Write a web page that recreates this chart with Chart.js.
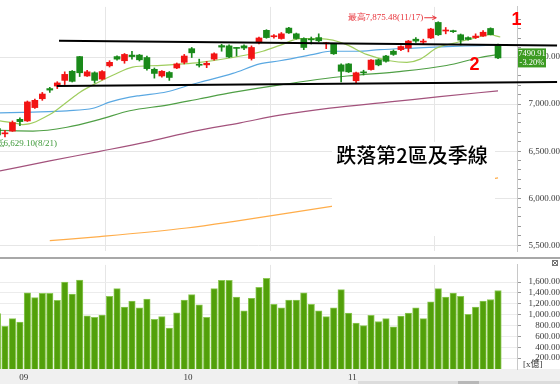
<!DOCTYPE html>
<html><head><meta charset="utf-8">
<script src="https://cdn.jsdelivr.net/npm/chart.js@4"></script>
<style>
html,body{margin:0;padding:0;background:#fff;overflow:hidden}
#wrap{position:relative;width:560px;height:384px}
#a{position:absolute;left:0;top:0}
#b{position:absolute;left:0;top:258px}
</style></head><body>
<div id="wrap">
<canvas id="a" width="560" height="258"></canvas>
<canvas id="b" width="560" height="126"></canvas>
</div>
<script>
// ---- data ----
const open  = [6740,6684,6713,6838,6821,6963,7057,7165,7192,7252,7349,7505,7299,7333,7266,7407,7505,7461,7521,7521,7495,7370,7299,7336,7384,7444,7589,7421,7417,7478,7622,7619,7600,7619,7485,7652,7784,7716,7697,7808,7747,7697,7691,7707,7642,7636,7417,7427,7248,7340,7367,7471,7511,7562,7579,7596,7690,7659,7703,7868,7777,7778,7737,7707,7707,7723,7804,7629];
const high  = [6765,6720,6821,6855,7033,7054,7124,7178,7238,7343,7357,7508,7360,7343,7357,7461,7513,7538,7562,7528,7511,7384,7357,7346,7437,7528,7602,7478,7454,7545,7636,7629,7602,7629,7619,7713,7791,7740,7761,7816,7755,7705,7713,7747,7657,7644,7427,7432,7341,7360,7473,7478,7518,7576,7619,7677,7707,7690,7806,7875.48,7814,7786,7745,7715,7747,7781,7811,7639];
const low   = [6650,6650,6710,6771,6815,6953,7040,7124,7165,7208,7235,7293,7293,7225,7256,7394,7468,7434,7478,7458,7360,7276,7286,7252,7377,7427,7495,7394,7387,7468,7562,7493,7511,7579,7468,7639,7700,7700,7690,7750,7690,7579,7639,7663,7589,7528,7235,7336,7218,7309,7362,7407,7447,7518,7569,7555,7656,7639,7697,7730,7747,7761,7629,7680,7697,7720,7735,7483];
const close = [6672,6692,6804,6814,7023,7040,7107,7149,7225,7316,7242,7333,7343,7252,7346,7444,7478,7528,7505,7471,7377,7326,7349,7283,7427,7511,7545,7413,7434,7535,7606,7501,7592,7596,7602,7703,7707,7724,7747,7757,7697,7602,7683,7673,7650,7535,7349,7343,7333,7332,7468,7417,7455,7528,7612,7670,7670,7667,7798,7737,7785,7770,7680,7687,7723,7764,7738.54,7490.91];
const volume = [1021,787,928,863,1403,1315,1391,1391,1262,1602,1379,1637,980,951,992,1338,1479,1139,1250,1127,1285,916,963,752,1033,1268,1368,1180,951,1479,1632,1632,1326,1069,1303,1502,1667,1192,1127,1268,1268,1403,1192,1069,963,1127,1461,1027,845,798,986,875,928,775,974,1027,1127,928,1238,1479,1326,1396,1338,1004,1139,1250,1280,1444];
const monthLabels = ['09','10','11'];
const monthStart  = [4, 26, 48];
const priceTickLabels  = [5500, 6000, 6500, 7000, 7500];
const volumeTickLabels = [200, 400, 600, 800, 1000, 1200, 1400, 1600];
// moving averages as [index, price] points
const maShort = [[0.33,6821],[3.0,6788],[3.4,6781],[7.0,6889],[9.3,7023],[11.0,7124],[13.3,7225],[15.5,7309],[18.1,7394],[21.4,7410],[24.8,7427],[27.1,7444],[31.5,7495],[35.5,7562],[37.8,7624],[40.5,7697],[43.2,7697],[44.9,7680],[46.8,7629],[49.4,7528],[52.5,7461],[54.8,7444],[56.6,7478],[58.8,7596],[61.0,7646],[63.7,7697],[65.9,7737],[67.3,7713]];
const maMonth = [[0.33,6907],[4.75,6915],[9.3,6929],[12.8,6956],[15.1,7023],[17.7,7074],[19.1,7091],[22.7,7131],[25.3,7192],[27.1,7232],[31.5,7326],[35.1,7427],[37.8,7461],[42.3,7528],[44.5,7562],[48.1,7562],[51.2,7579],[55.7,7596],[60.1,7612],[64.6,7622],[67,7629]];
const maQuarter = [[0.33,6720],[4.75,6713],[9.3,6754],[13.7,6838],[17.7,6929],[22.7,6990],[27.1,7057],[31.5,7124],[37.8,7205],[46.8,7299],[53.4,7343],[60.1,7410],[64.6,7495],[66.8,7525]];
const maHalf = [[0.33,6289],[7.0,6397],[13.7,6498],[20.4,6604],[26.2,6710],[32.5,6801],[37.8,6882],[44.5,6958],[52.5,7023],[59.2,7079],[67,7141]];
const maYear = [[7.0,5549],[13.7,5592],[25.3,5683],[31.5,5751],[37.8,5828],[44.7,5912],[67,6215]];
const upperLine = [[8.23,7673],[74.9,7622]];
const lowerLine = [[7.93,7192],[74.9,7235]];
const lowNote = {value: 6629.10, date: '8/21'};
const noteText = '跌落第2區及季線';

// ---- layout ----
const xMin = 0.335, xMax = 69.54;
const yMaxA = 8033.2, yMinA = 5437.5;
const volMax = 1916;
const RED = '#f21414', GREEN = '#1a8a1a';
const idx = open.map((_, i) => i);
const fmt = v => Number(v).toLocaleString('en-US', {minimumFractionDigits: 2, maximumFractionDigits: 2});
const tickFont = {family: '"Liberation Serif", serif', size: 9};
const candleColor = idx.map(i => close[i] >= open[i] ? RED : GREEN);
const pts = arr => arr.map(p => ({x: p[0], y: p[1]}));
const minorPriceTicks = [];
for (let v = 5500; v <= 7900; v += 100) minorPriceTicks.push(v);

function lineDs(data, color, order) {
  return {type: 'line', data: pts(data), borderColor: color, borderWidth: 1.2, pointRadius: 0,
    fill: false, cubicInterpolationMode: 'monotone', order: order};
}

const overlayA = {
  id: 'overlayA',
  afterDatasetsDraw(chart) {
    const ctx = chart.ctx;
    ctx.save();
    ctx.fillStyle = '#fff';
    ctx.fillRect(332, 142, 163, 94);
    ctx.fillStyle = '#000';
    ctx.font = '500 20px "Noto Sans CJK TC"';
    ctx.textAlign = 'center';
    ctx.textBaseline = 'middle';
    ctx.fillText(noteText, 412, 155);
    ctx.restore();
  },
  afterDraw(chart) {
    const ctx = chart.ctx, xs = chart.scales.x, ys = chart.scales.y;
    ctx.save();
    // drawn support / resistance lines
    ctx.strokeStyle = '#000'; ctx.lineWidth = 2;
    [upperLine, lowerLine].forEach(l => {
      ctx.beginPath();
      ctx.moveTo(xs.getPixelForValue(l[0][0]), ys.getPixelForValue(l[0][1]));
      ctx.lineTo(xs.getPixelForValue(l[1][0]), ys.getPixelForValue(l[1][1]));
      ctx.stroke();
    });
    // zone numbers
    ctx.fillStyle = '#ff0000';
    ctx.font = 'bold 18px "Liberation Sans"';
    ctx.textAlign = 'center'; ctx.textBaseline = 'middle';
    ctx.fillText('1', 516.5, 20);
    ctx.fillText('2', 474.5, 65);
    // highest label
    let hi = 0; high.forEach((h, i) => { if (h > high[hi]) hi = i; });
    const hx = xs.getPixelForValue(hi), hy = ys.getPixelForValue(high[hi]) - 4;
    ctx.fillStyle = '#e8333a'; ctx.strokeStyle = '#e8333a'; ctx.lineWidth = 1;
    ctx.font = '9px "Liberation Serif"';
    ctx.textAlign = 'right';
    ctx.fillText('最高' + fmt(high[hi]) + '(11/17)', hx - 15, hy);
    ctx.beginPath(); ctx.moveTo(hx - 14, hy); ctx.lineTo(hx - 2, hy); ctx.stroke();
    ctx.beginPath(); ctx.moveTo(hx - 2, hy); ctx.lineTo(hx - 6, hy - 2); ctx.moveTo(hx - 2, hy); ctx.lineTo(hx - 6, hy + 2); ctx.stroke();
    // lowest label (partly off the left edge)
    ctx.fillStyle = '#3f9a3a';
    ctx.fillText('最低' + fmt(lowNote.value) + '(' + lowNote.date + ')', 57, 143.5);
    // last price box
    const lc = close[close.length - 1], pc = close[close.length - 2];
    const py = ys.getPixelForValue(lc);
    ctx.fillStyle = '#3c9b22';
    ctx.fillRect(518, py - 9.5, 28, 19);
    ctx.fillStyle = '#fff';
    ctx.font = '8.5px "Liberation Serif"';
    ctx.textAlign = 'center';
    ctx.fillText(lc.toFixed(2), 532, py - 4.5);
    ctx.fillText(((lc / pc - 1) * 100).toFixed(2) + '%', 532, py + 4.8);
    // panel separator
    ctx.fillStyle = '#a8a8a8';
    ctx.fillRect(0, 257, 560, 1);
    ctx.restore();
  }
};

const overlayB = {
  id: 'overlayB',
  beforeDraw(chart) {
    const ctx = chart.ctx;
    ctx.save();
    ctx.fillStyle = '#f0f0f0';
    ctx.fillRect(0, 111, 560, 15);
    ctx.fillStyle = '#dcdcdc';
    ctx.fillRect(358, 123, 202, 3);
    ctx.fillStyle = '#b8b8b8';
    ctx.fillRect(458, 123, 21, 3);
    ctx.restore();
  },
  afterDraw(chart) {
    const ctx = chart.ctx;
    ctx.save();
    ctx.fillStyle = '#a8a8a8';
    ctx.fillRect(0, 0, 560, 1);
    ctx.fillStyle = '#333';
    ctx.font = '9px "Liberation Serif", "Noto Sans CJK TC"';
    ctx.textAlign = 'left'; ctx.textBaseline = 'middle';
    ctx.fillText('[x億]', 523, 106.5);
    ctx.strokeStyle = '#777'; ctx.lineWidth = 1;
    ctx.strokeRect(552.5, 2.5, 5, 5);
    ctx.beginPath(); ctx.moveTo(552.5, 2.5); ctx.lineTo(557.5, 7.5); ctx.moveTo(557.5, 2.5); ctx.lineTo(552.5, 7.5); ctx.stroke();
    ctx.restore();
  }
};

const xBase = {
  type: 'linear', min: xMin, max: xMax, offset: false,
  afterBuildTicks: s => { s.ticks = monthStart.map(v => ({value: v - 0.5})); },
  grid: {color: '#e6e6e6', drawTicks: false},
  border: {display: false}
};

new Chart(document.getElementById('a'), {
  type: 'bar',
  data: {datasets: [
    {data: idx.map(i => ({x: i, y: [open[i], close[i]]})), backgroundColor: candleColor, barThickness: 6, minBarLength: 1, grouped: false, order: 0},
    {data: idx.map(i => ({x: i, y: [low[i], high[i]]})), backgroundColor: candleColor, barThickness: 1, grouped: false, order: 1},
    lineDs(maShort, '#9fcd5e', 2),
    lineDs(maMonth, '#5aa8e2', 3),
    lineDs(maQuarter, '#4f9f45', 4),
    lineDs(maHalf, '#a3527c', 5),
    lineDs(maYear, '#ffad4a', 6)
  ]},
  options: {
    responsive: false, animation: false,
    layout: {padding: {top: 0, bottom: 1, left: 0, right: 0}, autoPadding: false},
    plugins: {legend: {display: false}, tooltip: {enabled: false}},
    scales: {
      x: Object.assign({}, xBase, {ticks: {display: false}, afterFit: s => { s.height = 0; }}),
      y: {
        type: 'linear', position: 'right', min: yMinA, max: yMaxA,
        afterBuildTicks: s => { s.ticks = minorPriceTicks.map(v => ({value: v})); },
        afterFit: s => { s.width = 43; },
        ticks: {autoSkip: false, crossAlign: 'far', padding: 1.5, color: '#3a3a3a', font: tickFont,
          callback: v => priceTickLabels.includes(v) ? fmt(v) : ''},
        grid: {color: c => (c.tick && priceTickLabels.includes(c.tick.value)) ? '#e6e6e6' : 'rgba(0,0,0,0)',
          tickColor: '#9a9a9a', tickLength: 4},
        border: {display: true, color: '#c8c8c8', width: 1}
      }
    }
  },
  plugins: [overlayA]
});

new Chart(document.getElementById('b'), {
  type: 'bar',
  data: {datasets: [
    {data: idx.map(i => ({x: i, y: volume[i]})), backgroundColor: '#52a00a', borderColor: '#8dc856', borderWidth: 1, barThickness: 6.5, grouped: false}
  ]},
  options: {
    responsive: false, animation: false,
    layout: {padding: {top: 1, bottom: 0, left: 0, right: 0}, autoPadding: false},
    plugins: {legend: {display: false}, tooltip: {enabled: false}},
    scales: {
      x: Object.assign({}, xBase, {
        ticks: {display: true, autoSkip: false, maxRotation: 0, padding: 3.5, color: '#333', font: tickFont,
          callback: (v, i) => monthLabels[i]},
        afterFit: s => { s.height = 15; }
      }),
      y: {
        type: 'linear', position: 'right', min: 0, max: volMax,
        afterBuildTicks: s => { s.ticks = volumeTickLabels.map(v => ({value: v})); },
        afterFit: s => { s.width = 43; },
        ticks: {autoSkip: false, crossAlign: 'far', padding: 1.5, color: '#3a3a3a', font: tickFont,
          callback: v => fmt(v)},
        grid: {color: '#ececec', tickColor: '#9a9a9a', tickLength: 4},
        border: {display: true, color: '#c8c8c8', width: 1}
      }
    }
  },
  plugins: [overlayB]
});
</script>
</body></html>
